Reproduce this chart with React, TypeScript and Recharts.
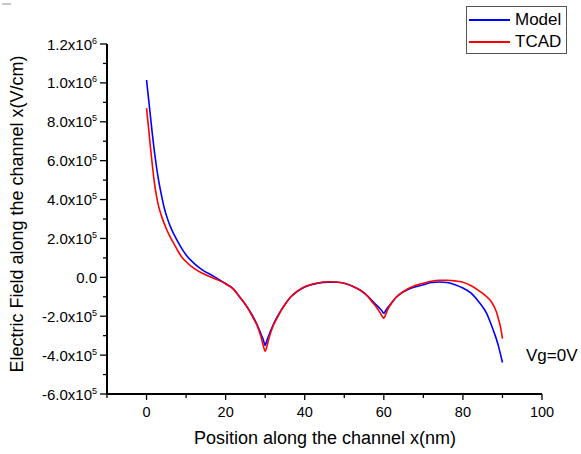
import { LineChart, Line, XAxis, YAxis } from "recharts";

// x positions along the channel (nm)
const positions = [
  0, 0.5, 1, 1.5, 2, 2.5, 3, 3.5, 4, 4.5, 5, 6, 7, 8, 9, 10, 12, 14, 17, 20, 22, 23.5, 25, 26, 27, 28, 29, 29.5, 30,
  30.5, 31, 32, 33, 34, 35, 36.5, 38, 40, 43, 46, 48, 50, 52, 54, 56, 57, 58, 59, 59.5, 60,
  60.5, 61, 62, 63, 65, 67, 70, 72, 74, 76, 78, 80, 82, 84, 85, 86, 87, 88, 88.5, 89, 89.5, 90
];

// electric field, in units of 1e5 V/cm
const modelField = [
  10.15, 9.2, 8.25, 7.3, 6.45, 5.7, 5.05, 4.5, 4.0, 3.55, 3.2, 2.62, 2.18, 1.8, 1.45, 1.15, 0.72, 0.4, 0.05, -0.33, -0.6, -1.0, -1.4, -1.7, -2.05, -2.45, -2.95, -3.2, -3.5,
  -3.2, -2.95, -2.45, -2.05, -1.7, -1.4, -1.0, -0.75, -0.5, -0.32, -0.25, -0.25, -0.3, -0.45, -0.65, -0.97, -1.2, -1.4, -1.6, -1.72, -1.85,
  -1.7, -1.55, -1.3, -1.05, -0.74, -0.55, -0.38, -0.27, -0.24, -0.27, -0.38, -0.55, -0.8, -1.25, -1.52, -1.85, -2.35, -2.9, -3.2, -3.55, -3.95, -4.38
];

const tcadField = [
  8.7, 7.7, 6.67, 5.7, 4.85, 4.2, 3.7, 3.33, 3.02, 2.75, 2.5, 2.07, 1.7, 1.33, 1.02, 0.8, 0.46, 0.22, -0.05, -0.33, -0.62, -1.0, -1.4, -1.72, -2.1, -2.5, -3.1, -3.5, -3.8,
  -3.5, -3.1, -2.5, -2.1, -1.72, -1.4, -1.0, -0.72, -0.48, -0.3, -0.23, -0.24, -0.3, -0.45, -0.66, -1.0, -1.25, -1.5, -1.8, -1.98, -2.1,
  -1.9, -1.65, -1.32, -1.05, -0.72, -0.5, -0.3, -0.2, -0.15, -0.15, -0.18, -0.25, -0.42, -0.68, -0.83, -1.0, -1.2, -1.55, -1.8, -2.15, -2.55, -3.15
];

const xTicks = [-10, 0, 10, 20, 30, 40, 50, 60, 70, 80, 90, 100];
const yTicks = [-6, -5, -4, -3, -2, -1, 0, 1, 2, 3, 4, 5, 6, 7, 8, 9, 10, 11, 12];

const FONT = "'Liberation Sans', Arial, sans-serif";

const data = positions.map((x, i) => ({ x, model: modelField[i], tcad: tcadField[i] }));

const XTick = (props: any) => {
  const { x, y, payload } = props;
  const v = payload.value;
  const major = v % 20 === 0 && v >= 0;
  return (
    <g>
      <line x1={x} y1={y} x2={x} y2={y + (major ? 6 : 4)} stroke='#000' strokeWidth={1.3} />
      {major && (
        <text x={x} y={y + 23} textAnchor='middle' fontSize={14.5} fontFamily={FONT} fill='#000'>
          {v}
        </text>
      )}
    </g>
  );
};

const YTick = (props: any) => {
  const { x, y, payload } = props;
  const v = payload.value;
  const major = v % 2 === 0;
  let label = null;
  if (major) {
    if (v === 0) {
      label = (
        <text x={x - 10} y={y + 5.5} textAnchor='end' fontSize={15} fontFamily={FONT} fill='#000'>
          0.0
        </text>
      );
    } else {
      const big = Math.abs(v) >= 10;
      const mant = (big ? v / 10 : v).toFixed(1);
      label = (
        <text x={x - 10} y={y + 5.5} textAnchor='end' fontSize={15} fontFamily={FONT} fill='#000'>
          {mant}x10
          <tspan dy={-6} fontSize={9}>
            {big ? "6" : "5"}
          </tspan>
        </text>
      );
    }
  }
  return (
    <g>
      <line x1={x} y1={y} x2={x - (major ? 7 : 4)} y2={y} stroke='#000' strokeWidth={1.3} />
      {label}
    </g>
  );
};

const App = () => {
  return (
    <div
      style={{
        position: "absolute",
        left: 0,
        top: 0,
        width: 581,
        height: 454,
        background: "#fff",
        fontFamily: FONT
      }}
    >
      <div style={{ position: "absolute", left: 2, top: 3, width: 9, height: 2, background: "#c8c8c8" }} />

      <LineChart width={581} height={454} data={data} margin={{ top: 44, right: 39, bottom: 30, left: 0 }}>
        <XAxis
          dataKey='x'
          type='number'
          domain={[-10, 100]}
          ticks={xTicks}
          interval={0}
          tickSize={0}
          tickMargin={0}
          tickLine={false}
          tick={<XTick />}
          axisLine={{ stroke: "#000", strokeWidth: 2 }}
          height={30}
          allowDataOverflow
        />
        <YAxis
          type='number'
          domain={[-6, 12]}
          ticks={yTicks}
          interval={0}
          tickSize={0}
          tickMargin={0}
          tickLine={false}
          tick={<YTick />}
          axisLine={{ stroke: "#000", strokeWidth: 2 }}
          width={107}
          allowDataOverflow
        />
        <Line
          type='monotone'
          dataKey='model'
          stroke='#0000ff'
          strokeWidth={1.6}
          dot={false}
          isAnimationActive={false}
        />
        <Line
          type='monotone'
          dataKey='tcad'
          stroke='#ff0000'
          strokeWidth={1.6}
          dot={false}
          isAnimationActive={false}
        />
      </LineChart>

      {/* axis titles */}
      <div
        style={{
          position: "absolute",
          left: 325,
          top: 438,
          transform: "translate(-50%, -50%)",
          fontSize: 18,
          whiteSpace: "nowrap",
          color: "#000"
        }}
      >
        Position along the channel x(nm)
      </div>
      <div
        style={{
          position: "absolute",
          left: 17,
          top: 214,
          transform: "translate(-50%, -50%) rotate(-90deg)",
          fontSize: 18,
          whiteSpace: "nowrap",
          color: "#000"
        }}
      >
        Electric Field along the channel x(V/cm)
      </div>

      <div style={{ position: "absolute", left: 526, top: 346, fontSize: 17, whiteSpace: "nowrap", color: "#000" }}>
        Vg=0V
      </div>

      {/* legend */}
      <div
        style={{
          position: "absolute",
          left: 466,
          top: 6,
          width: 99,
          height: 46,
          border: "1px solid #555",
          background: "#fff"
        }}
      >
        {[
          { name: "Model", color: "#0000ff" },
          { name: "TCAD", color: "#ff0000" }
        ].map((item, i) => (
          <div
            key={item.name}
            style={{ position: "absolute", left: 2, top: 2 + i * 22, height: 22, display: "flex", alignItems: "center" }}
          >
            <div style={{ width: 41, height: 2, background: item.color }} />
            <span style={{ marginLeft: 5, fontSize: 17, color: "#000" }}>{item.name}</span>
          </div>
        ))}
      </div>
    </div>
  );
};

export default App;
